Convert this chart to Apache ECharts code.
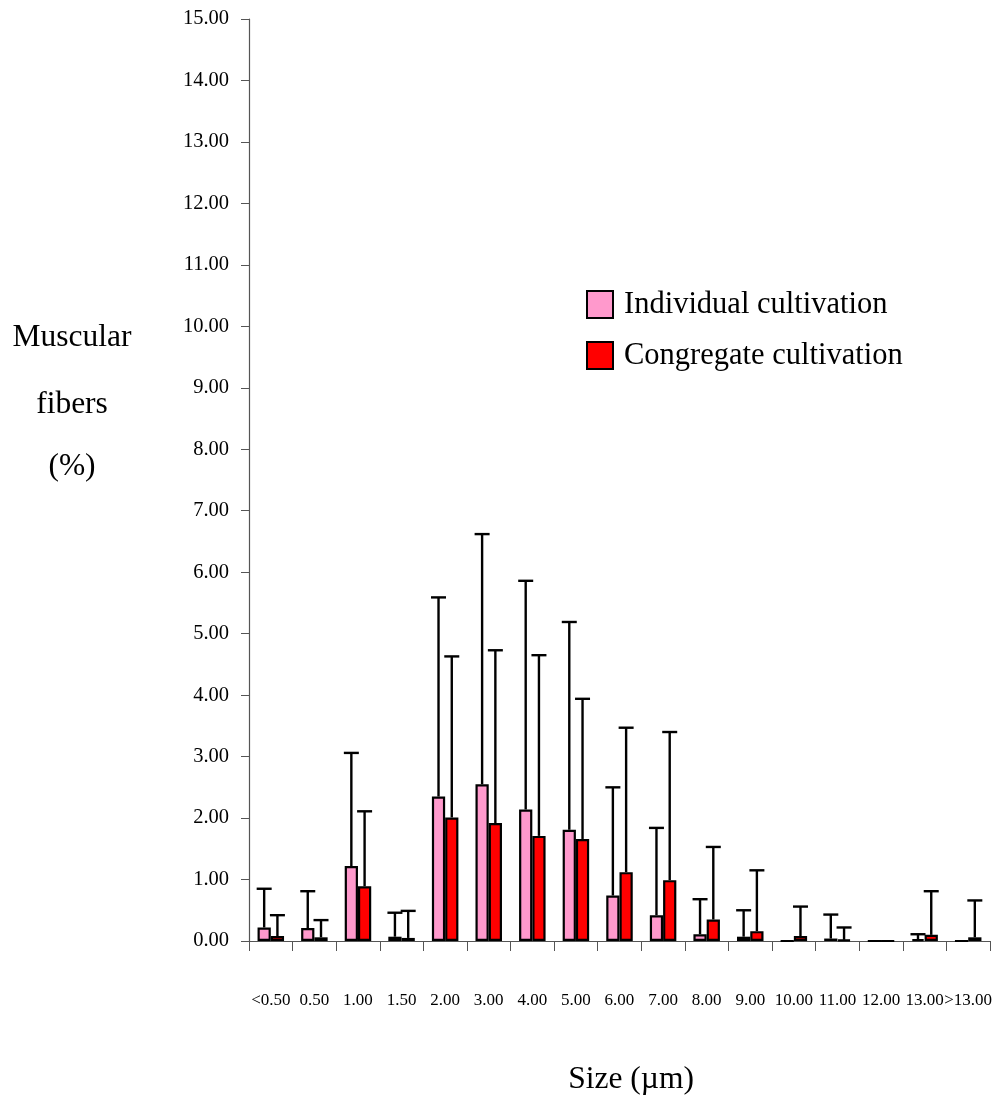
<!DOCTYPE html>
<html>
<head>
<meta charset="utf-8">
<script src="https://cdn.jsdelivr.net/npm/echarts@6/dist/echarts.min.js"></script>
<style>
html,body{margin:0;padding:0;background:#fff;}
#chart{width:995px;height:1099px;}
</style>
</head>
<body>
<div id="chart"></div>
<script>
const categories = ['<0.50','0.50','1.00','1.50','2.00','3.00','4.00','5.00','6.00','7.00','8.00','9.00','10.00','11.00','12.00','13.00','>13.00'];
const individualMean = [0.22,0.21,1.22,0.07,2.35,2.55,2.14,1.81,0.74,0.42,0.11,0.07,0.00,0.04,0.00,0.03,0.00];
const individualSD   = [0.63,0.60,1.84,0.39,3.24,4.07,3.72,3.38,1.76,1.42,0.57,0.43,0.00,0.39,0.00,0.08,0.00];
const congregateMean = [0.08,0.06,0.89,0.05,2.01,1.92,1.71,1.66,1.12,0.99,0.35,0.16,0.08,0.02,0.00,0.10,0.06];
const congregateSD   = [0.34,0.28,1.22,0.44,2.62,2.81,2.94,2.28,2.35,2.41,1.18,0.99,0.48,0.20,0.00,0.71,0.60];
const yTicks = [0,1,2,3,4,5,6,7,8,9,10,11,12,13,14,15];

const FONT = 'Liberation Serif';
const BAR_FRAC = 0.304;

function errSeries(mean, sd, sign) {
  return {
    type: 'custom',
    z: 5,
    silent: true,
    data: mean.map((m, i) => [i, m, sd[i]]),
    encode: { x: 0, y: 1 },
    renderItem: function (params, api) {
      const i = api.value(0), m = api.value(1), s = api.value(2);
      if (!s) return null;
      const catW = api.size([1, 0])[0];
      const p0 = api.coord([i, m]);
      const p1 = api.coord([i, m + s]);
      const x = p0[0] + sign * catW * BAR_FRAC / 2;
      const style = { stroke: '#000', lineWidth: 2.4 };
      return {
        type: 'group',
        children: [
          { type: 'line', shape: { x1: x, y1: p0[1], x2: x, y2: p1[1] }, style: style },
          { type: 'line', shape: { x1: x - 7.5, y1: p1[1], x2: x + 7.5, y2: p1[1] }, style: style }
        ]
      };
    }
  };
}

const chart = echarts.init(document.getElementById('chart'));
chart.setOption({
  animation: false,
  backgroundColor: '#fff',
  grid: { left: 249, right: 1, top: 19, bottom: 158, containLabel: false },
  legend: {
    orient: 'vertical',
    left: 586,
    top: 289,
    padding: 0,
    itemWidth: 26,
    itemHeight: 27,
    itemGap: 20,
    icon: 'rect',
    data: ['Individual cultivation', 'Congregate cultivation'],
    textStyle: { fontFamily: FONT, fontSize: 30.5, color: '#000', padding: [0, 0, 0, 6] }
  },
  xAxis: {
    type: 'category',
    data: categories,
    boundaryGap: true,
    axisLine: { lineStyle: { color: '#555', width: 1.2 } },
    axisTick: { show: true, length: 10, alignWithLabel: false, lineStyle: { color: '#555' } },
    axisLabel: { interval: 0, margin: 51, fontFamily: FONT, fontSize: 17, color: '#000' },
    splitLine: { show: false }
  },
  yAxis: {
    type: 'value',
    min: yTicks[0],
    max: yTicks[yTicks.length - 1],
    interval: 1,
    axisLine: { show: true, lineStyle: { color: '#555', width: 1.2 } },
    axisTick: { show: true, length: 8, lineStyle: { color: '#555' } },
    axisLabel: { margin: 20, fontFamily: FONT, fontSize: 20.5, color: '#000',
      formatter: v => v.toFixed(2) },
    splitLine: { show: false }
  },
  series: [
    {
      name: 'Individual cultivation',
      type: 'bar',
      data: individualMean,
      barWidth: (BAR_FRAC * 100) + '%',
      barGap: '0%',
      itemStyle: { color: '#FF99CC', borderColor: '#000', borderWidth: 2.2 }
    },
    {
      name: 'Congregate cultivation',
      type: 'bar',
      data: congregateMean,
      barWidth: (BAR_FRAC * 100) + '%',
      barGap: '0%',
      itemStyle: { color: '#FF0000', borderColor: '#000', borderWidth: 2.2 }
    },
    errSeries(individualMean, individualSD, -1),
    errSeries(congregateMean, congregateSD, 1)
  ],
  graphic: [
    { type: 'text', x: 72, y: 338, style: { text: 'Muscular', fontFamily: FONT, fontSize: 31.5, fill: '#000', textAlign: 'center', textVerticalAlign: 'middle' } },
    { type: 'text', x: 72, y: 405, style: { text: 'fibers', fontFamily: FONT, fontSize: 31.5, fill: '#000', textAlign: 'center', textVerticalAlign: 'middle' } },
    { type: 'text', x: 72, y: 467, style: { text: '(%)', fontFamily: FONT, fontSize: 31.5, fill: '#000', textAlign: 'center', textVerticalAlign: 'middle' } },
    { type: 'text', x: 631, y: 1080, style: { text: 'Size (µm)', fontFamily: FONT, fontSize: 31.5, fill: '#000', textAlign: 'center', textVerticalAlign: 'middle' } }
  ]
});
</script>
</body>
</html>
